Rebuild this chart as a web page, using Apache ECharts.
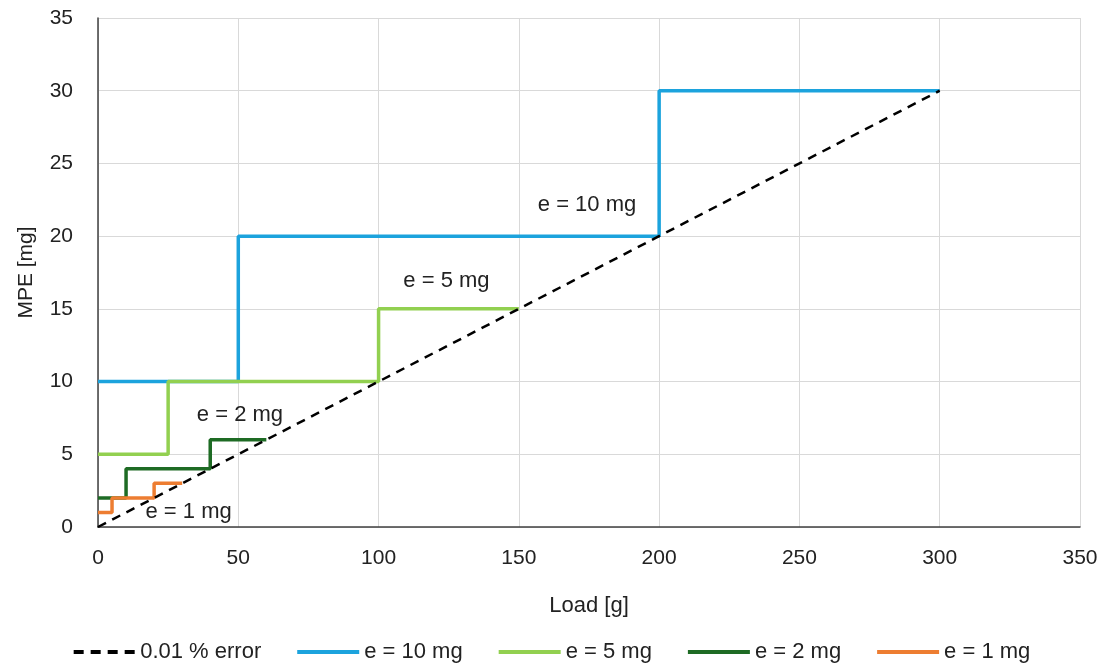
<!DOCTYPE html>
<html>
<head>
<meta charset="utf-8">
<script src="https://cdn.jsdelivr.net/npm/echarts@6/dist/echarts.min.js"></script>
<style>
  html, body { margin: 0; padding: 0; background: #fff; }
  #main { width: 1104px; height: 667px; }
</style>
</head>
<body>
<div id="main"></div>
<script>
// reference line: 0.01 % of load
var errLine = [[0, 0], [300, 30]];
// MPE step curves per verification interval e  [load g, MPE mg]
var e10 = [[0, 10], [50, 10], [50, 20], [200, 20], [200, 30], [300, 30]];
var e5 = [[0, 5], [25, 5], [25, 10], [100, 10], [100, 15], [150, 15]];
var e2 = [[0, 2], [10, 2], [10, 4], [40, 4], [40, 6], [60, 6]];
var e1 = [[0, 1], [5, 1], [5, 2], [20, 2], [20, 3], [30, 3]];
var seriesNames = ['0.01 % error', 'e = 10 mg', 'e = 5 mg', 'e = 2 mg', 'e = 1 mg'];
// text labels placed in the plot (data coords)
var notes = [
  { text: 'e = 10 mg', at: [174.3, 22.1] },
  { text: 'e = 5 mg', at: [124.2, 16.9] },
  { text: 'e = 2 mg', at: [50.6, 7.7] },
  { text: 'e = 1 mg', at: [32.3, 1.0] }
];

var colors = ['#000000', '#1CA3DD', '#92D050', '#1E6B24', '#ED7D31'];
var font = 'Liberation Sans, Arial, sans-serif';
var dashIcon = 'path://M0,0h10v4h-10z M17,0h10v4h-10z M34,0h10v4h-10z M51,0h10v4h-10z';

var myChart = echarts.init(document.getElementById('main'));

function stepSeries(name, data, color) {
  return {
    name: name, type: 'line', data: data, symbol: 'none',
    lineStyle: { color: color, width: 3.5 }, itemStyle: { color: color }
  };
}

var option = {
  animation: false,
  grid: { left: 98, right: 24, top: 18, bottom: 140 },
  legend: {
    bottom: -1, left: 'center',
    itemWidth: 62, itemHeight: 4, itemGap: 36,
    textStyle: { fontFamily: font, fontSize: 22, color: '#222' },
    data: seriesNames.map(function (n, i) {
      return { name: n, icon: i === 0 ? dashIcon : 'rect' };
    })
  },
  xAxis: {
    type: 'value', min: 0, max: 350, interval: 50,
    name: 'Load [g]', nameLocation: 'middle', nameGap: 68,
    nameTextStyle: { fontFamily: font, fontSize: 22, color: '#222' },
    axisLine: { show: true, lineStyle: { color: '#404040', width: 1.5 } },
    axisTick: { show: false },
    axisLabel: { fontFamily: font, fontSize: 21, color: '#222', margin: 21 },
    splitLine: { show: true, lineStyle: { color: '#D9D9D9', width: 1 } }
  },
  yAxis: {
    type: 'value', min: 0, max: 35, interval: 5,
    name: 'MPE [mg]', nameLocation: 'middle', nameGap: 61,
    nameTextStyle: { fontFamily: font, fontSize: 21, color: '#222' },
    axisLine: { show: true, lineStyle: { color: '#404040', width: 1.5 } },
    axisTick: { show: false },
    axisLabel: { fontFamily: font, fontSize: 21, color: '#222', margin: 25 },
    splitLine: { show: true, lineStyle: { color: '#D9D9D9', width: 1 } }
  },
  series: [
    {
      name: seriesNames[0], type: 'line', data: errLine, symbol: 'none',
      lineStyle: { color: colors[0], width: 2.5, type: [9, 7] },
      itemStyle: { color: colors[0] }, z: 5
    },
    stepSeries(seriesNames[1], e10, colors[1]),
    stepSeries(seriesNames[2], e5, colors[2]),
    stepSeries(seriesNames[3], e2, colors[3]),
    stepSeries(seriesNames[4], e1, colors[4]),
    {
      type: 'scatter', symbolSize: 1, silent: true, z: 10,
      itemStyle: { opacity: 0 },
      data: notes.map(function (n) { return { value: n.at, name: n.text }; }),
      label: {
        show: true, position: 'top', distance: 0, verticalAlign: 'middle',
        formatter: '{b}', fontFamily: font, fontSize: 22, color: '#222', opacity: 1
      }
    }
  ]
};

myChart.setOption(option);
</script>
</body>
</html>
